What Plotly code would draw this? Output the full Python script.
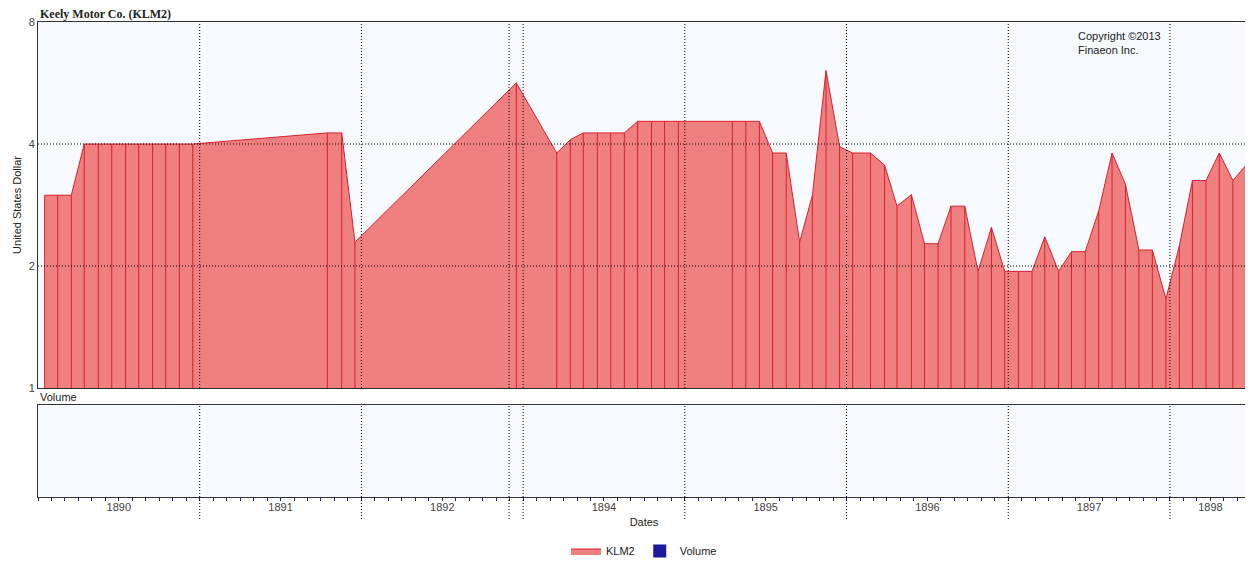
import plotly.graph_objects as go

# period position (in year-segment units from left edge) and price
t_pos = [0.041,0.122,0.206,0.286,0.373,0.456,0.542,0.623,0.709,0.790,0.874,0.957,
         1.789,1.878,1.960,2.958,3.208,3.292,3.372,3.459,3.542,3.626,3.708,3.794,3.875,3.960,
         4.294,4.377,4.461,4.543,4.627,4.710,4.789,4.873,4.957,5.038,5.148,5.235,5.312,5.401,
         5.482,5.566,5.646,5.731,5.813,5.896,5.978,6.063,6.147,6.226,6.311,6.391,6.476,6.559,
         6.642,6.725,6.808,6.891,6.975,7.058,7.139,7.223,7.305,7.389,7.471]
price = [2.99,2.99,2.99,4.0,4.0,4.0,4.0,4.0,4.0,4.0,4.0,4.0,
         4.26,4.26,2.29,5.66,3.80,4.10,4.26,4.26,4.26,4.26,4.55,4.55,4.55,4.55,
         4.55,4.55,4.55,3.80,3.80,2.29,2.99,6.07,3.94,3.80,3.80,3.55,2.81,3.00,
         2.27,2.27,2.81,2.81,1.94,2.49,1.94,1.94,1.94,2.36,1.94,2.17,2.17,2.73,3.80,
         3.18,2.19,2.19,1.66,2.24,3.25,3.25,3.80,3.25,3.55]
tick_pos = [0.5,1.5,2.5,3.5,4.5,5.5,6.5,7.25]
tick_labels = ["1890","1891","1892","1894","1895","1896","1897","1898"]
grid_pos = [1,2,2.913,3,4,5,6,7]

H = 568
def py(v):
    return 1 - (v - 8) / H

fill = "#f08080"
edge = "#d8202a"
dotdash = "1px,2px"
fig = go.Figure()
fig.add_trace(go.Scatter(x=[t_pos[0], t_pos[-1]], y=[1, 1], mode="lines",
                         line=dict(width=0), showlegend=False, hoverinfo="skip"))
fig.add_trace(go.Scatter(x=t_pos, y=price, mode="lines", fill="tonexty",
                         fillcolor=fill, line=dict(color=edge, width=1), name="KLM2"))
dx, dy = [], []
for x, p in zip(t_pos, price):
    dx += [x, x, None]; dy += [1, p, None]
fig.add_trace(go.Scatter(x=dx, y=dy, mode="lines", line=dict(color=edge, width=1),
                         showlegend=False, hoverinfo="skip"))
fig.add_trace(go.Scatter(x=[None], y=[None], name="Volume", mode="markers",
                         marker=dict(symbol="square", size=13, color="#1a1a9a"),
                         xaxis="x2", yaxis="y2"))

shapes = []
for g in grid_pos:
    for ya in ["y", "y2"]:
        shapes.append(dict(type="line", xref="x", yref=ya + " domain", x0=g, x1=g, y0=0, y1=1,
                           line=dict(color="black", width=1, dash=dotdash)))
    shapes.append(dict(type="line", xref="x", yref="paper", x0=g, x1=g, y0=py(519), y1=py(497),
                       line=dict(color="black", width=1, dash=dotdash)))
for v in [2, 4]:
    shapes.append(dict(type="line", xref="x domain", yref="y", x0=0, x1=1, y0=v, y1=v,
                       line=dict(color="black", width=1, dash=dotdash)))

xr = [0, 7.495]
fig.update_layout(
    width=1245, height=H, margin=dict(l=30, r=3, t=0, b=0, autoexpand=False),
    paper_bgcolor="white", plot_bgcolor="#f7fbff",
    font=dict(family="Liberation Sans, Arial", size=11, color="#222"),
    shapes=shapes,
    xaxis=dict(range=xr, domain=[0, 1], anchor="y", showticklabels=False, showgrid=False,
               zeroline=False, showline=True, linecolor="#333", mirror=True, ticks="",
               automargin=False),
    yaxis=dict(type="log", range=[0, 0.90309], domain=[py(388), py(22)], tickvals=[1, 2, 4, 8],
               ticktext=["1", "2", "4", "8"], showgrid=False, showline=True, linecolor="#333",
               mirror=True, ticks="", automargin=False,
               title=dict(text="United States Dollar", standoff=4, font=dict(size=11)),
               tickfont=dict(size=11, color="#444")),
    xaxis2=dict(range=xr, domain=[0, 1], anchor="y2", tickvals=tick_pos, ticktext=tick_labels,
                showgrid=False, zeroline=False, showline=True, linecolor="#333", mirror=True,
                ticks="", tickfont=dict(size=11, color="#444"), automargin=False,
                minor=dict(dtick=1/12, tick0=0, ticks="outside", ticklen=3, tickcolor="#1a1a9a"),
                title=dict(text="Dates", standoff=6, font=dict(size=11))),
    yaxis2=dict(domain=[py(497), py(405)], range=[0, 1], showticklabels=False, showgrid=False,
                zeroline=False, showline=True, linecolor="#333", mirror=True, ticks="",
                automargin=False),
    legend=dict(orientation="h", x=0.5, xanchor="center", y=py(551), yanchor="middle",
                font=dict(size=11), traceorder="normal"),
    annotations=[
        dict(text="<b>Keely Motor Co. (KLM2)</b>", xref="paper", yref="paper", x=0, y=py(14),
             xanchor="left", yanchor="middle", showarrow=False,
             font=dict(family="Liberation Serif, Times New Roman", size=12, color="#222")),
        dict(text="Volume", xref="paper", yref="paper", x=0, y=py(397), xanchor="left",
             yanchor="middle", showarrow=False, font=dict(size=11)),
        dict(text="Copyright ©2013<br>Finaeon Inc.", xref="paper", yref="paper",
             x=(1076-38)/1212, y=py(28), xanchor="left", yanchor="top", align="left",
             showarrow=False, font=dict(size=11)),
    ],
)
fig.write_html("out.html")
